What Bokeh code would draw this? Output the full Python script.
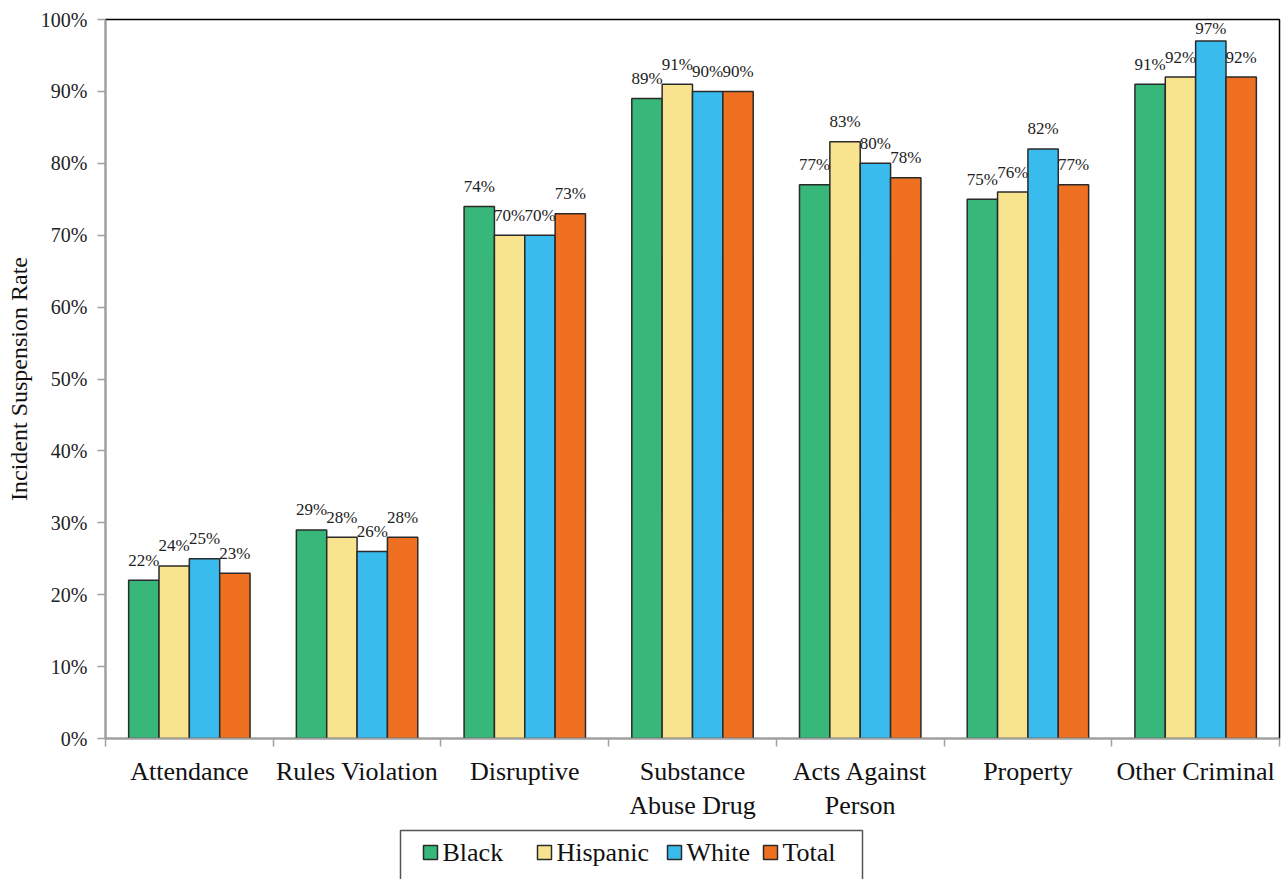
from bokeh.plotting import figure
from bokeh.layouts import column
from bokeh.models import (Range1d, FixedTicker, NumeralTickFormatter, LabelSet,
                          ColumnDataSource)
from bokeh.core.properties import value
from bokeh.embed import file_html
from bokeh.resources import INLINE

# Incident suspension rate (%) by offense category and group
categories = ["Attendance", "Rules Violation", "Disruptive", "Substance\nAbuse Drug",
              "Acts Against\nPerson", "Property", "Other Criminal"]
series_names = ["Black", "Hispanic", "White", "Total"]
black = [22, 29, 74, 89, 77, 75, 91]
hispanic = [24, 28, 70, 91, 83, 76, 92]
white = [25, 26, 70, 90, 80, 82, 97]
total = [23, 28, 73, 90, 78, 77, 92]
y_ticks = [0, 10, 20, 30, 40, 50, 60, 70, 80, 90, 100]

series_values = [black, hispanic, white, total]
colors = ["#37B77A", "#F8E48F", "#3ABBEE", "#F07022"]

FONT = "Liberation Serif"
BAR_W = 0.181
PAGE_W, PAGE_H = 1287, 879
CHART_H = 826
FRAME_LEFT, FRAME_RIGHT = 105, 1279
FRAME_TOP, FRAME_H = 19, 719
n = len(categories)

p = figure(width=PAGE_W, height=CHART_H, x_range=Range1d(0, n), y_range=Range1d(0, 1),
           output_backend="svg", toolbar_location=None,
           min_border_left=FRAME_LEFT, min_border_right=PAGE_W - FRAME_RIGHT,
           min_border_top=FRAME_TOP, min_border_bottom=CHART_H - FRAME_TOP - FRAME_H)
p.background_fill_color = "white"
p.border_fill_color = "white"
p.outline_line_color = "black"
p.outline_line_width = 1.5
p.xgrid.visible = False
p.ygrid.visible = False


def label_lift(v):
    # keep value labels ~20px above the bar, but inside the plot frame
    return min(20.0, (1 - v / 100) * FRAME_H - 9)


for k, (name, vals, col) in enumerate(zip(series_names, series_values, colors)):
    off = (k - 1.5) * BAR_W
    src = ColumnDataSource(dict(
        x=[i + 0.5 + off for i in range(n)],
        top=[v / 100 for v in vals],
        label=[f"{v}%" for v in vals],
        lift=[label_lift(v) for v in vals],
    ))
    p.vbar(x="x", top="top", width=BAR_W, bottom=0, source=src,
           fill_color=col, line_color="#2a2a2a", line_width=1.5)
    p.add_layout(LabelSet(x="x", y="top", text="label", source=src,
                          text_align="center", text_baseline="middle", y_offset="lift",
                          text_font=value(FONT), text_font_size="17px", text_color="#222222"))

# y axis
yax = p.yaxis[0]
yax.ticker = FixedTicker(ticks=[t / 100 for t in y_ticks])
yax.formatter = NumeralTickFormatter(format="0%")
yax.axis_line_color = "#A0A0A0"
yax.axis_line_width = 1.5
yax.major_tick_line_color = "#A0A0A0"
yax.major_tick_line_width = 1.5
yax.major_tick_out = 8
yax.major_tick_in = 0
yax.minor_tick_line_color = None
yax.major_label_standoff = 10
yax.major_label_text_font = FONT
yax.major_label_text_font_size = "20px"
yax.major_label_text_color = "#222222"
yax.axis_label = "Incident Suspension Rate"
yax.axis_label_text_font = FONT
yax.axis_label_text_font_size = "24px"
yax.axis_label_text_font_style = "normal"
yax.axis_label_text_color = "#111111"
yax.axis_label_standoff = 6

# x axis: labels at category centres, tick marks at category boundaries
xax = p.xaxis[0]
centers = [i + 0.5 for i in range(n)]
xax.ticker = FixedTicker(ticks=centers, minor_ticks=list(range(n + 1)))
xax.major_label_overrides = {c: lab for c, lab in zip(centers, categories)}
xax.axis_line_color = "#A0A0A0"
xax.axis_line_width = 1.5
xax.major_tick_line_color = None
xax.major_tick_out = 0
xax.major_tick_in = 0
xax.minor_tick_line_color = "#A0A0A0"
xax.minor_tick_line_width = 1.5
xax.minor_tick_out = 8
xax.minor_tick_in = 0
xax.major_label_standoff = 10
xax.major_label_text_font = FONT
xax.major_label_text_font_size = "26px"
xax.major_label_text_color = "#111111"

# Legend strip underneath the chart. Its frame lines up with the chart frame,
# so the ranges below map one data unit to one page pixel.
lg = figure(width=PAGE_W, height=PAGE_H - CHART_H,
            x_range=Range1d(FRAME_LEFT, FRAME_RIGHT), y_range=Range1d(PAGE_H, CHART_H),
            output_backend="svg", toolbar_location=None,
            min_border_left=0, min_border_right=0, min_border_top=0, min_border_bottom=0)
lg.axis.visible = False
lg.grid.visible = False
lg.outline_line_color = None
lg.background_fill_color = "white"
lg.border_fill_color = "white"

LEG_BOX = dict(left=400, right=862, top=830, bottom=PAGE_H + 20)
LEG_SWATCH_X = [423, 537, 667, 763]
SWATCH, GAP, ROW_Y = 14, 5, 852

lg.quad(left=[LEG_BOX["left"]], right=[LEG_BOX["right"]], top=[LEG_BOX["top"]],
        bottom=[LEG_BOX["bottom"]], fill_color="white", line_color="#555555", line_width=1.5)
lg.quad(left=LEG_SWATCH_X, right=[x + SWATCH for x in LEG_SWATCH_X],
        top=[ROW_Y - SWATCH / 2] * 4, bottom=[ROW_Y + SWATCH / 2] * 4,
        fill_color=colors, line_color="#2a2a2a", line_width=1.5)
lg.text(x=[x + SWATCH + GAP for x in LEG_SWATCH_X], y=[ROW_Y] * 4, text=series_names,
        text_align="left", text_baseline="middle", text_font=value(FONT),
        text_font_size="26px", text_color="#111111")

page = column(p, lg, spacing=0)
open("out.html", "w").write(file_html(page, INLINE))
